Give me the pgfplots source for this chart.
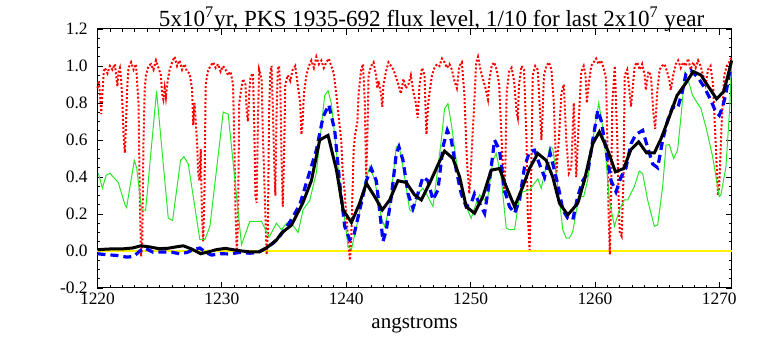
\documentclass[border=0pt]{standalone}
\usepackage{fontspec}
\setmainfont{Liberation Serif}
\usepackage{pgfplots}
\pgfplotsset{compat=1.18}
\definecolor{idlgreen}{RGB}{40,230,40}
\definecolor{idlyellow}{RGB}{255,240,0}
\begin{document}
\begin{tikzpicture}
\begin{axis}[
  scale only axis,
  width=317.1pt, height=129.5pt,
  xmin=1220, xmax=1271, ymin=-0.2, ymax=1.2,
  xtick={1220,1230,1240,1250,1260,1270},
  minor x tick num=9,
  ytick={-0.2,0,0.2,0.4,0.6,0.8,1.0,1.2},
  minor y tick num=3,
  xticklabel={\rmfamily\pgfmathprintnumber[assume math mode=true,1000 sep={}]{\tick}},
  yticklabel={\rmfamily\pgfmathprintnumber[assume math mode=true,fixed,fixed zerofill,precision=1]{\tick}},
  xticklabel style={anchor=base, yshift=-8.5pt},
  yticklabel style={anchor=east, xshift=-1.4pt},
  tick label style={font=\fontsize{8.7}{10}\selectfont},
  major tick length=3pt, minor tick length=1.5pt,
  tick style={black, line width=0.4pt},
  axis line style={line width=0.5pt},
  xlabel={angstroms},
  xlabel style={font=\fontsize{10.5}{12}\selectfont, at={(axis description cs:0.5,0)}, anchor=base, yshift=-20.5pt},
  title={5x10\textsuperscript{7}yr, PKS 1935-692 flux level, 1/10 for last 2x10\textsuperscript{7} year},
  title style={font=\fontsize{11.55}{13}\selectfont, at={(axis description cs:0.5,1)}, anchor=base, yshift=-4.6pt, xshift=8.5pt},
  clip=false,
]
% invisible frame giving the picture the reference's margins
\path (rel axis cs:0,0) ++(-48.75pt,-29pt) rectangle ++(380.5pt,173pt);

% zero level
\addplot[idlyellow, line width=1pt] coordinates {(1220,0) (1271,0)};

% high-resolution spectrum (red dotted)
\addplot[red, line width=1pt, dash pattern=on 1pt off 1pt] coordinates {
(1220.0,0.88) (1220.1,0.92) (1220.2,0.85) (1220.3,0.74) (1220.4,0.86) (1220.5,0.97)
(1220.6,0.99) (1220.8,0.96) (1221.0,1.00) (1221.2,0.98) (1221.4,1.01) (1221.5,0.95)
(1221.6,0.89) (1221.7,0.97) (1221.8,0.99) (1221.9,0.93) (1222.0,0.80) (1222.1,0.62)
(1222.2,0.53) (1222.3,0.70) (1222.4,0.90) (1222.5,0.99) (1222.7,1.02) (1222.9,0.98)
(1223.1,1.01) (1223.3,0.80) (1223.4,0.30) (1223.5,-0.03) (1223.6,0.05) (1223.7,0.60)
(1223.8,0.88) (1223.9,0.95) (1224.1,1.00) (1224.3,1.01) (1224.5,0.98) (1224.7,1.03)
(1224.9,0.99) (1225.1,0.95) (1225.2,0.85) (1225.3,0.82) (1225.4,0.88) (1225.5,0.83)
(1225.6,0.90) (1225.8,0.98) (1226.0,1.02) (1226.2,1.05) (1226.4,1.00) (1226.6,1.03)
(1226.8,0.98) (1227.0,1.01) (1227.2,0.97) (1227.4,0.96) (1227.6,0.88) (1227.7,0.68)
(1227.8,0.80) (1228.0,0.60) (1228.1,0.42) (1228.2,0.38) (1228.3,0.55) (1228.4,0.20)
(1228.5,0.05) (1228.6,0.30) (1228.7,0.90) (1228.9,0.98) (1229.1,1.00) (1229.3,1.02)
(1229.5,0.99) (1229.7,1.01) (1229.9,0.97) (1230.1,1.00) (1230.3,0.98) (1230.5,0.95)
(1230.7,0.97) (1230.9,0.90) (1231.0,0.60) (1231.1,0.20) (1231.2,0.00) (1231.3,0.15)
(1231.4,0.80) (1231.5,0.85) (1231.7,0.93) (1231.9,0.90) (1232.0,0.75) (1232.1,0.70)
(1232.2,0.85) (1232.3,0.94) (1232.5,0.96) (1232.6,0.70) (1232.7,0.30) (1232.8,0.26)
(1232.9,0.70) (1233.0,0.98) (1233.2,0.93) (1233.3,0.62) (1233.5,0.20) (1233.6,-0.02)
(1233.7,0.10) (1233.8,0.76) (1233.9,0.96) (1234.0,1.00) (1234.1,0.78) (1234.2,0.50)
(1234.3,0.30) (1234.4,0.75) (1234.5,0.98) (1234.6,1.00) (1234.7,0.90) (1234.8,0.50)
(1234.9,0.24) (1235.0,0.50) (1235.1,0.90) (1235.3,0.95) (1235.5,0.92) (1235.7,0.98)
(1235.9,1.00) (1236.1,0.90) (1236.3,0.80) (1236.4,0.63) (1236.5,0.70) (1236.6,0.85)
(1236.8,0.95) (1237.0,1.00) (1237.2,1.03) (1237.4,0.99) (1237.6,1.05) (1237.8,1.01)
(1238.0,1.03) (1238.2,0.99) (1238.4,1.02) (1238.6,1.04) (1238.8,1.00) (1239.0,0.96)
(1239.2,0.85) (1239.4,0.72) (1239.6,0.60) (1239.7,0.45) (1239.9,0.30) (1240.1,0.10)
(1240.3,-0.05) (1240.4,0.05) (1240.5,0.30) (1240.6,0.55) (1240.7,0.62) (1240.9,0.70)
(1241.0,0.85) (1241.2,0.98) (1241.35,1.01) (1241.5,0.80) (1241.6,0.40) (1241.7,0.60)
(1241.8,0.95) (1242.0,1.00) (1242.2,1.02) (1242.4,0.95) (1242.5,0.88) (1242.6,0.92)
(1242.8,0.85) (1242.9,0.78) (1243.0,0.90) (1243.2,0.97) (1243.4,1.02) (1243.6,1.00)
(1243.8,0.98) (1244.0,0.94) (1244.2,0.90) (1244.4,0.85) (1244.6,0.93) (1244.8,0.88)
(1245.0,0.90) (1245.2,0.95) (1245.4,0.86) (1245.6,0.80) (1245.75,0.72) (1245.9,0.90)
(1246.1,0.99) (1246.3,0.95) (1246.45,0.63) (1246.6,0.80) (1246.75,0.88) (1246.9,0.95)
(1247.1,0.99) (1247.3,1.01) (1247.5,1.00) (1247.7,1.04) (1247.9,1.02) (1248.1,0.99)
(1248.3,1.01) (1248.5,0.98) (1248.7,0.92) (1248.9,0.88) (1249.1,1.00) (1249.3,1.02)
(1249.5,0.85) (1249.7,0.50) (1249.9,0.31) (1250.0,0.40) (1250.1,0.55) (1250.3,0.80)
(1250.45,1.02) (1250.6,1.05) (1250.8,0.98) (1251.0,0.93) (1251.2,0.88) (1251.4,0.82)
(1251.5,0.92) (1251.7,1.00) (1251.9,1.02) (1252.1,0.98) (1252.3,0.90) (1252.5,0.60)
(1252.7,0.31) (1252.8,0.45) (1252.9,0.85) (1253.1,0.97) (1253.3,0.99) (1253.5,0.92)
(1253.7,0.75) (1253.8,0.72) (1253.9,0.90) (1254.1,1.00) (1254.3,0.98) (1254.5,0.60)
(1254.6,0.20) (1254.75,0.005) (1254.85,0.30) (1255.0,0.95) (1255.2,1.00) (1255.4,0.98)
(1255.55,0.80) (1255.7,0.60) (1255.8,0.75) (1255.9,0.95) (1256.1,1.00) (1256.3,1.02)
(1256.5,0.98) (1256.7,0.80) (1256.9,0.42) (1257.1,0.60) (1257.3,0.85) (1257.5,0.90)
(1257.7,0.60) (1257.9,0.42) (1258.1,0.45) (1258.3,0.80) (1258.5,0.40) (1258.7,0.70)
(1258.9,0.97) (1259.1,1.00) (1259.25,0.95) (1259.35,0.80) (1259.5,0.90) (1259.7,1.00)
(1259.9,1.02) (1260.1,1.04) (1260.3,1.01) (1260.5,1.03) (1260.7,0.99) (1260.9,0.93)
(1261.0,0.60) (1261.1,0.20) (1261.2,-0.02) (1261.3,0.30) (1261.4,0.80) (1261.6,1.00)
(1261.8,0.60) (1261.9,0.30) (1262.0,0.10) (1262.15,0.08) (1262.3,0.40) (1262.4,0.95)
(1262.6,0.98) (1262.8,0.85) (1262.9,0.78) (1263.0,0.85) (1263.2,1.00) (1263.4,1.02)
(1263.6,0.98) (1263.8,1.01) (1264.0,0.95) (1264.1,0.87) (1264.3,0.97) (1264.5,0.95)
(1264.7,0.75) (1264.85,0.66) (1265.0,0.85) (1265.2,0.98) (1265.4,1.00) (1265.6,1.01)
(1265.8,0.97) (1266.0,0.92) (1266.1,0.87) (1266.3,0.95) (1266.5,1.01) (1266.7,1.03)
(1266.9,0.99) (1267.1,1.02) (1267.3,1.00) (1267.5,1.04) (1267.7,0.98) (1267.9,1.02)
(1268.1,0.99) (1268.3,1.03) (1268.5,1.00) (1268.7,0.95) (1268.9,0.90) (1269.1,0.98)
(1269.3,1.00) (1269.5,0.90) (1269.7,0.60) (1269.9,0.30) (1270.0,0.35) (1270.2,0.70)
(1270.4,0.95) (1270.6,1.00) (1270.8,1.02) (1271.0,1.05)
};

% smoothed spectrum (green thin)
\addplot[idlgreen, line width=0.5pt] coordinates {
(1220.07,0.42) (1220.39,0.34) (1220.7,0.41) (1221.0,0.42) (1221.67,0.37) (1222.21,0.25)
(1222.34,0.235) (1222.96,0.49) (1223.15,0.45) (1223.55,0.222) (1223.87,0.22) (1224.75,0.865)
(1225.69,0.177) (1226.04,0.165) (1226.68,0.49) (1226.95,0.51) (1227.3,0.47) (1228.23,0.061)
(1228.63,0.061) (1229.04,0.133) (1230.11,0.751) (1230.51,0.74) (1231.58,0.034) (1232.25,0.16)
(1233.19,0.16) (1233.8,0.075) (1234.39,0.15) (1234.79,0.115) (1235.2,0.15) (1235.6,0.15)
(1236.13,0.10) (1236.53,0.222) (1237.07,0.274) (1237.6,0.423) (1238.27,0.84) (1238.54,0.867)
(1238.81,0.796) (1239.34,0.455) (1239.75,0.24) (1240.15,0.025) (1240.42,0.007) (1240.95,0.168)
(1241.49,0.365) (1241.89,0.455) (1242.29,0.385) (1242.83,0.177) (1243.09,0.133) (1243.5,0.24)
(1244.03,0.563) (1244.3,0.554) (1244.7,0.40) (1245.1,0.222) (1245.37,0.213) (1245.77,0.31)
(1246.17,0.339) (1246.57,0.294) (1246.98,0.24) (1247.38,0.455) (1247.65,0.6) (1247.91,0.769)
(1248.18,0.796) (1248.45,0.688) (1248.85,0.49) (1249.25,0.348) (1249.65,0.24) (1250.05,0.177)
(1250.46,0.258) (1250.72,0.303) (1251.13,0.276) (1251.39,0.294) (1251.79,0.49) (1252.06,0.527)
(1252.46,0.40) (1252.87,0.124) (1253.13,0.115) (1253.54,0.115) (1253.94,0.294) (1254.2,0.32)
(1254.74,0.33) (1255.14,0.366) (1255.41,0.39) (1255.68,0.339) (1256.08,0.455) (1256.35,0.563)
(1256.61,0.555) (1257.02,0.348) (1257.42,0.115) (1257.69,0.07) (1257.95,0.07) (1258.22,0.106)
(1258.62,0.258) (1258.89,0.294) (1259.1,0.294) (1259.42,0.384) (1259.83,0.6) (1260.31,0.8)
(1260.58,0.688) (1260.9,0.49) (1261.16,0.276) (1261.57,0.133) (1261.97,0.222) (1262.37,0.276)
(1262.64,0.276) (1263.17,0.348) (1263.57,0.432) (1263.84,0.419) (1264.24,0.276) (1264.78,0.133)
(1265.05,0.142) (1265.45,0.348) (1265.72,0.572) (1265.98,0.575) (1266.33,0.5) (1266.65,0.545)
(1266.92,0.724) (1267.24,0.966) (1267.59,0.903) (1267.86,0.84) (1268.53,0.769) (1268.93,0.67)
(1269.47,0.509) (1270.0,0.294) (1270.13,0.303) (1270.54,0.455) (1270.86,0.796) (1271.0,1.03)
};

% blue dashed
\addplot[blue, line width=1.6pt, dash pattern=on 4pt off 2.5pt] coordinates {
(1220.0,-0.015) (1220.74,-0.02) (1221.54,-0.024) (1222.34,-0.033) (1222.9,-0.03) (1223.41,0.0)
(1223.81,0.016) (1224.48,-0.007) (1225.29,-0.005) (1226.0,-0.007) (1226.63,-0.015) (1227.2,-0.008)
(1227.7,0.007) (1228.23,0.016) (1228.7,-0.008) (1229.17,-0.022) (1229.9,-0.015) (1230.64,-0.016)
(1231.4,-0.008) (1232.25,-0.012) (1232.9,-0.008) (1233.59,0.016) (1234.13,0.043) (1234.39,0.06)
(1234.66,0.08) (1235.2,0.13) (1235.5,0.16) (1236.27,0.25) (1236.94,0.40) (1237.6,0.545)
(1238.14,0.724) (1238.6,0.79) (1239.08,0.65) (1239.48,0.366) (1239.88,0.133) (1240.28,0.061)
(1240.6,0.08) (1241.09,0.222) (1241.62,0.38) (1242.02,0.446) (1242.42,0.38) (1242.83,0.133)
(1242.96,0.052) (1243.23,0.115) (1243.63,0.294) (1244.03,0.527) (1244.24,0.563) (1244.57,0.49)
(1244.97,0.31) (1245.37,0.23) (1245.77,0.31) (1246.17,0.40) (1246.57,0.38) (1246.98,0.276)
(1247.38,0.33) (1247.78,0.563) (1248.13,0.652) (1248.45,0.60) (1248.85,0.437) (1249.25,0.31)
(1249.65,0.24) (1250.05,0.258) (1250.32,0.31) (1250.72,0.258) (1251.13,0.204) (1251.53,0.38)
(1251.93,0.60) (1252.33,0.545) (1252.73,0.33) (1253.13,0.24) (1253.54,0.204) (1253.94,0.276)
(1254.34,0.455) (1254.74,0.536) (1255.14,0.545) (1255.54,0.47) (1255.95,0.40) (1256.4,0.53)
(1257.02,0.36) (1257.42,0.222) (1257.82,0.177) (1258.22,0.168) (1258.62,0.294) (1259.02,0.38)
(1259.42,0.42) (1259.83,0.6) (1260.23,0.76) (1260.5,0.706) (1260.9,0.545) (1261.3,0.38)
(1261.7,0.32) (1262.1,0.40) (1262.5,0.45) (1262.9,0.58) (1263.3,0.63) (1263.84,0.652)
(1264.24,0.56) (1264.65,0.47) (1265.05,0.45) (1265.45,0.6) (1265.85,0.706) (1266.25,0.778)
(1266.65,0.77) (1267.05,0.867) (1267.32,0.957) (1267.72,0.975) (1268.26,0.94) (1268.8,0.885)
(1269.33,0.814) (1269.73,0.75) (1270.0,0.733) (1270.27,0.778) (1270.54,0.85) (1270.8,0.957)
(1271.0,0.993)
};

% black solid
\addplot[black, line width=1.5pt] coordinates {
(1220.0,0.007) (1220.7,0.010) (1221.4,0.012) (1222.1,0.012) (1222.8,0.016) (1223.5,0.028)
(1224.2,0.022) (1224.9,0.013) (1225.6,0.014) (1226.3,0.022) (1226.9,0.028) (1227.6,0.010)
(1228.3,-0.015) (1228.9,-0.005) (1229.6,0.008) (1230.3,0.014) (1231.0,0.006) (1231.6,0.000)
(1232.3,-0.005) (1233.0,-0.005) (1233.7,0.022) (1234.4,0.060) (1234.8,0.097) (1235.6,0.140)
(1236.5,0.258) (1237.2,0.38) (1237.87,0.60) (1238.54,0.625) (1239.21,0.44) (1239.75,0.222)
(1240.42,0.154) (1241.08,0.258) (1241.62,0.366) (1242.29,0.294) (1242.9,0.222) (1243.5,0.276)
(1244.16,0.38) (1244.83,0.37) (1245.5,0.303) (1246.04,0.276) (1246.71,0.366) (1247.38,0.466)
(1247.91,0.54) (1248.58,0.50) (1249.12,0.401) (1249.65,0.24) (1250.32,0.204) (1250.99,0.294)
(1251.66,0.437) (1252.33,0.446) (1252.87,0.348) (1253.54,0.24) (1254.2,0.348) (1254.74,0.446)
(1255.41,0.527) (1256.08,0.49) (1256.61,0.40) (1257.15,0.258) (1257.82,0.195) (1258.62,0.258)
(1259.16,0.383) (1259.83,0.58) (1260.36,0.644) (1261.03,0.545) (1261.65,0.428) (1262.32,0.446)
(1262.9,0.549) (1263.52,0.59) (1264.16,0.53) (1264.78,0.53) (1265.32,0.607) (1265.98,0.724)
(1266.6,0.84) (1267.27,0.903) (1267.91,0.97) (1268.53,0.951) (1269.12,0.889) (1269.79,0.822)
(1270.35,0.862) (1270.67,0.94) (1271.0,1.03)
};
\end{axis}
\end{tikzpicture}
\end{document}
